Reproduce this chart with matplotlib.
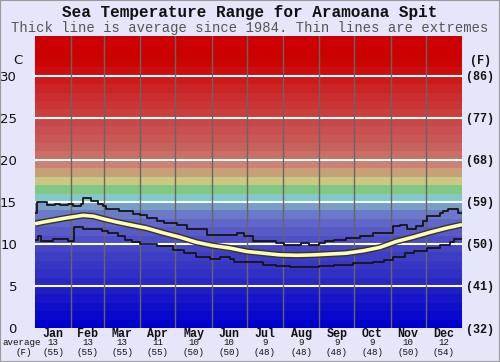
import matplotlib
matplotlib.use('Agg')
import matplotlib.pyplot as plt
from matplotlib.transforms import blended_transform_factory
import numpy as np

# ---------------- data ----------------
months = ['Jan', 'Feb', 'Mar', 'Apr', 'May', 'Jun', 'Jul', 'Aug', 'Sep', 'Oct', 'Nov', 'Dec']
month_days = [31, 28, 31, 30, 31, 30, 31, 31, 30, 31, 30, 31]
month_avg_c = ['13', '13', '13', '11', '10', '10', '9', '9', '9', '9', '10', '12']
month_avg_f = ['(55)', '(55)', '(55)', '(55)', '(50)', '(50)', '(48)', '(48)', '(48)', '(48)', '(50)', '(54)']

avg_day = [0, 7, 15, 27, 41, 50, 58, 70, 84, 95, 110, 124, 138, 152, 167, 181, 195, 209,
           224, 238, 252, 266, 281, 295, 309, 323, 338, 352, 365]
avg_temp = [12.4, 12.6, 12.8, 13.1, 13.4, 13.3, 13.0, 12.6, 12.2, 11.9, 11.3, 10.8, 10.2, 9.8,
            9.5, 9.1, 8.9, 8.7, 8.65, 8.7, 8.8, 8.9, 9.2, 9.6, 10.3, 10.8, 11.4, 11.9, 12.3]

max_day = [0, 2, 10, 17, 21, 28, 32.5, 39.6, 41, 48, 54, 58, 61, 72, 84, 90, 96, 104, 110, 121,
           130, 147, 173, 179, 186, 192, 206, 213, 227, 234, 243, 248, 256, 266, 278, 289, 306,
           312, 318, 326, 332, 335, 346, 349, 353, 362]
max_temp = [13.7, 15.0, 14.6, 14.8, 14.6, 14.8, 14.5, 14.8, 15.5, 15.1, 14.8, 14.5, 14.1, 13.9,
            13.6, 13.4, 13.1, 12.7, 12.5, 12.2, 11.8, 11.1, 11.3, 11.0, 10.3, 10.4, 10.1, 9.9,
            10.1, 9.9, 10.1, 10.3, 10.5, 10.7, 10.9, 11.3, 12.1, 12.2, 11.8, 12.1, 12.7, 13.3,
            13.7, 13.9, 14.2, 13.7]

min_day = [0, 2.6, 5.4, 15.4, 28, 33, 41, 57, 62, 71, 77, 83, 90, 104, 118, 127, 138, 150,
           158, 167, 170, 195, 206, 218, 229, 243, 256, 272, 289, 298, 306, 316, 324, 335, 346,
           355, 358]
min_temp = [10.5, 10.9, 10.4, 10.6, 10.3, 12.0, 11.8, 11.6, 11.3, 10.9, 10.5, 10.2, 10.0, 9.8,
            9.3, 8.9, 8.5, 8.2, 8.5, 8.2, 7.9, 7.5, 7.4, 7.2, 7.3, 7.4, 7.5, 7.7, 7.9, 8.1, 8.5,
            8.9, 9.2, 9.5, 9.9, 10.2, 10.6]

c_ticks = [0, 5, 10, 15, 20, 25, 30]
c_labels = ['0', '5', '10', '15', '20', '25', '30']
f_labels = ['(32)', '(41)', '(50)', '(59)', '(68)', '(77)', '(86)']

title = 'Sea Temperature Range for Aramoana Spit'
subtitle = 'Thick line is average since 1984. Thin lines are extremes'

# ---------------- style ----------------
band_colors = [
    (0, 0, 204), (8, 8, 204), (15, 15, 202), (22, 22, 200), (30, 30, 198),
    (40, 40, 196), (48, 48, 196), (55, 55, 196), (62, 62, 196), (70, 70, 196),
    (78, 78, 198), (88, 90, 200), (98, 102, 200), (108, 120, 200), (120, 158, 200),
    (130, 200, 200), (130, 200, 130), (200, 200, 130), (200, 160, 120), (205, 130, 120),
    (200, 112, 102), (200, 98, 92), (200, 88, 86), (200, 80, 80), (200, 72, 72),
    (202, 62, 62), (202, 52, 52), (202, 45, 45), (202, 36, 36), (204, 26, 26),
    (204, 14, 14), (204, 4, 4), (204, 0, 0), (204, 0, 0), (204, 0, 0)]
band_colors = [tuple(v / 255 for v in c) for c in band_colors]

W, H = 500, 362
ax_l, ax_r, ax_b, ax_t = 35, 462, 328, 35.5
fig = plt.figure(figsize=(W / 100, H / 100), dpi=100, facecolor='#e6e6fa')
ax = fig.add_axes([ax_l / W, 1 - ax_b / H, (ax_r - ax_l) / W, (ax_b - ax_t) / H])
ymax = 34.8
ax.set_xlim(0, 365)
ax.set_ylim(0, ymax)

for i, c in enumerate(band_colors):
    ax.axhspan(i, i + 1, color=c, lw=0, zorder=0)
for t in c_ticks[1:]:
    ax.axhline(t, color='white', lw=1.5, zorder=1)
edges = np.cumsum(month_days)
for e in edges[:-1]:
    ax.axvline(e, color='#666666', lw=1, zorder=1)

ax.step(max_day + [365], max_temp + [max_temp[-1]], where='post', color='#151515', lw=1.3, zorder=3)
ax.step(min_day + [365], min_temp + [min_temp[-1]], where='post', color='#151515', lw=1.3, zorder=3)
ax.plot(avg_day, avg_temp, color='#333333', lw=4.6, zorder=4, solid_capstyle='butt')
ax.plot(avg_day, avg_temp, color='#ffffb4', lw=2.6, zorder=5, solid_capstyle='butt')

for s in ax.spines.values():
    s.set_visible(False)

ax.set_yticks(c_ticks)
ax.set_yticklabels(c_labels, fontsize=9.5, family='DejaVu Sans', color='#111111')
ax.tick_params(axis='y', length=0, pad=13)
ax.set_xticks([])

ax2 = ax.twinx()
ax2.set_ylim(0, ymax)
ax2.set_yticks(c_ticks)
ax2.set_yticklabels(f_labels, fontsize=8.5, family='Liberation Mono', weight='bold', color='#111111')
ax2.tick_params(axis='y', length=0, pad=3)
for s in ax2.spines.values():
    s.set_visible(False)

trans = ax.get_xaxis_transform()
starts = np.concatenate([[0], edges[:-1]])
centers = (starts + edges) / 2
hpx = ax_b - ax_t
for cx, m, a, f in zip(centers, months, month_avg_c, month_avg_f):
    ax.text(cx, -(333.7 - ax_b) / hpx, m, transform=trans, ha='center', va='center',
            family='Liberation Mono', weight='bold', fontsize=8.4, color='#111111')
    ax.text(cx, -(342.7 - ax_b) / hpx, a, transform=trans, ha='center', va='center',
            family='Liberation Mono', fontsize=6.6, color='#111111')
    ax.text(cx, -(352.3 - ax_b) / hpx, f, transform=trans, ha='center', va='center',
            family='Liberation Mono', fontsize=6.6, color='#111111')

fig.text(2 / W, 1 - 342.7 / H, 'average', ha='left', va='center', family='Liberation Mono',
         fontsize=6.6, color='#111111')
fig.text(24 / W, 1 - 352.3 / H, '(F)', ha='center', va='center', family='Liberation Mono',
         fontsize=6.6, color='#111111')
fig.text(22 / W, 1 - 61 / H, 'C', ha='right', va='center', family='DejaVu Sans',
         fontsize=9.5, color='#111111')
fig.text(481 / W, 1 - 61 / H, '(F)', ha='center', va='center', family='Liberation Mono',
         weight='bold', fontsize=8.5, color='#111111')

fig.text(0.5, 1 - 12.5 / H, title, ha='center', va='center', family='Liberation Mono',
         weight='bold', fontsize=11.5, color='#111111')
fig.text(0.5, 1 - 28 / H, subtitle, ha='center', va='center', family='Liberation Mono',
         fontsize=10, color='#555555')

fig.add_artist(plt.Rectangle((0, 0), 1, 1, transform=fig.transFigure, fill=False,
                             ec='#999999', lw=1.5))

fig.savefig('out.png', dpi=100, facecolor=fig.get_facecolor())
